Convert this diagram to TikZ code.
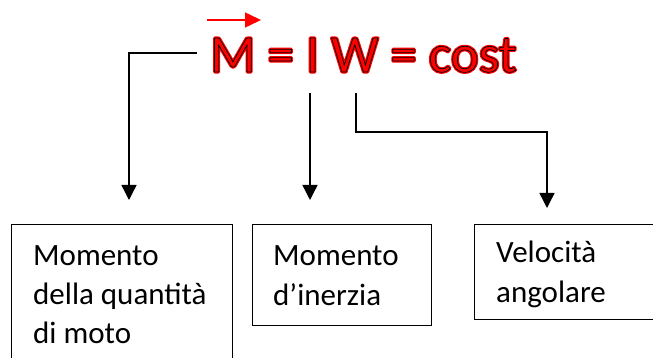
\documentclass[tikz,border=0pt]{standalone}
\usepackage{fontspec}
\setmainfont{Carlito}
\usetikzlibrary{arrows.meta}
\newcommand{\halotext}[1]{\special{pdf:literal direct 2 Tr 3 w 1 j 1 0 0 RG}#1\special{pdf:literal direct 0 Tr 1 w}}
\newcommand{\outlinetext}[1]{\special{pdf:literal direct 2 Tr 0.7 w 1 j 0 0 0 RG}#1\special{pdf:literal direct 0 Tr 1 w}}
\begin{document}
\begin{tikzpicture}[x=1pt,y=-1pt,
  conn/.style={line width=1.4pt,-{Triangle[width=15pt,length=15pt]}},
  vecarrow/.style={red,line width=1.5pt,-{Triangle[width=15pt,length=16pt]}},
  box/.style={draw,line width=1pt,anchor=north west,inner sep=0pt},
  lbl/.style={anchor=base west,inner sep=0pt,font=\fontsize{31}{39}\selectfont},
  ttl/.style={anchor=base west,inner sep=0pt,text=red,font=\fontsize{53}{60}\selectfont}]
\useasboundingbox (0,0) rectangle (653,358);
\clip (0,0) rectangle (653,358);
% boxes
\node[box,minimum width=221pt,minimum height=160pt] (b1) at (11,224) {};
\node[box,minimum width=179pt,minimum height=101pt] (b2) at (252,224) {};
\node[box,minimum width=200pt,minimum height=95pt] (b3) at (474,224) {};
% box texts
\node[lbl] (t1a) at (33,265) {Momento};
\node[lbl] (t1b) at (33,304) {della quantità};
\node[lbl] (t1c) at (33,343) {di moto};
\node[lbl] (t2a) at (273,265) {Momento};
\node[lbl] (t2b) at (273,305) {d’inerzia};
\node[lbl] (t3a) at (496,262) {Velocità};
\node[lbl] (t3b) at (496,302) {angolare};
% title: red halo, then black-outlined red text
\node[ttl] (halo) at (210,72) {\halotext{M = I W = cost}};
\node[ttl] (title) at (210,72) {\outlinetext{M = I W = cost}};
% vector arrow over M
\coordinate (va) at (207,20);
\coordinate (vb) at (261,20);
\draw[vecarrow] (va) -- (vb);
% connectors
\coordinate (s1) at (197,53);
\coordinate (e1) at (129,200);
\draw[conn] (s1) -| (e1);
\coordinate (s2) at (310,93);
\coordinate (e2) at (310,200);
\draw[conn] (s2) -- (e2);
\coordinate (s3) at (356,93);
\coordinate (k3) at (547,132);
\coordinate (e3) at (547,208);
\draw[conn] (s3) |- (k3) -- (e3);
\end{tikzpicture}
\end{document}
